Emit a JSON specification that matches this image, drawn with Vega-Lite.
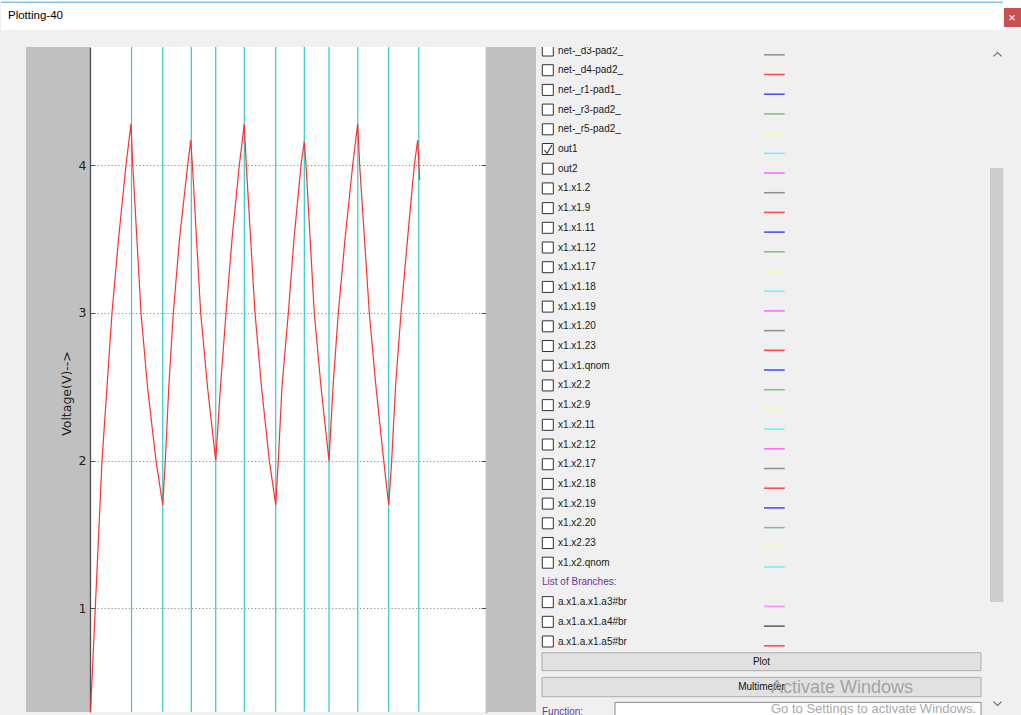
{
  "$schema": "https://vega.github.io/schema/vega-lite/v6.json",
  "background": "#f0f0f0",
  "padding": 0,
  "spacing": 17,
  "config": {"view": {"stroke": null}, "font": "Liberation Sans"},
  "datasets": {
    "red": [
      {"t":0.003,"v":0.25},{"t":0.080,"v":1.0},{"t":0.182,"v":2.0},{"t":0.333,"v":3.0},{"t":0.432,"v":3.5},{"t":0.545,"v":4.0},{"t":0.621,"v":4.28},
      {"t":0.648,"v":4.0},{"t":0.773,"v":3.0},{"t":0.871,"v":2.5},{"t":1.000,"v":2.0},{"t":1.102,"v":1.70},
      {"t":1.141,"v":2.0},{"t":1.194,"v":2.5},{"t":1.262,"v":3.0},{"t":1.356,"v":3.5},{"t":1.480,"v":4.0},{"t":1.526,"v":4.17},
      {"t":1.552,"v":4.0},{"t":1.677,"v":3.0},{"t":1.780,"v":2.5},{"t":1.905,"v":2.0},
      {"t":1.977,"v":2.5},{"t":2.061,"v":3.0},{"t":2.152,"v":3.5},{"t":2.262,"v":4.0},{"t":2.338,"v":4.28},
      {"t":2.368,"v":4.0},{"t":2.500,"v":3.0},{"t":2.598,"v":2.5},{"t":2.717,"v":2.0},{"t":2.814,"v":1.70},
      {"t":2.853,"v":2.0},{"t":2.909,"v":2.5},{"t":3.005,"v":3.0},{"t":3.091,"v":3.5},{"t":3.197,"v":4.0},{"t":3.247,"v":4.16},
      {"t":3.273,"v":4.0},{"t":3.398,"v":3.0},{"t":3.500,"v":2.5},{"t":3.621,"v":2.0},
      {"t":3.682,"v":2.5},{"t":3.762,"v":3.0},{"t":3.864,"v":3.5},{"t":3.980,"v":4.0},{"t":4.056,"v":4.28},
      {"t":4.086,"v":4.0},{"t":4.232,"v":3.0},{"t":4.333,"v":2.5},{"t":4.450,"v":2.0},{"t":4.526,"v":1.70},
      {"t":4.571,"v":2.0},{"t":4.629,"v":2.5},{"t":4.712,"v":3.0},{"t":4.811,"v":3.5},{"t":4.914,"v":4.0},{"t":4.965,"v":4.17},
      {"t":4.995,"v":3.90}
    ],
    "out1": [
      {"t":0,"v":5},{"t":0.629,"v":5},{"t":0.629,"v":0},{"t":1.102,"v":0},{"t":1.102,"v":5},{"t":1.535,"v":5},
      {"t":1.535,"v":0},{"t":1.905,"v":0},{"t":1.905,"v":5},{"t":2.338,"v":5},{"t":2.338,"v":0},{"t":2.814,"v":0},
      {"t":2.814,"v":5},{"t":3.247,"v":5},{"t":3.247,"v":0},{"t":3.621,"v":0},{"t":3.621,"v":5},{"t":4.058,"v":5},
      {"t":4.058,"v":0},{"t":4.526,"v":0},{"t":4.526,"v":5},{"t":4.982,"v":5},{"t":4.982,"v":0},{"t":4.995,"v":0}
    ],
    "signals": [
      {"i":0,"name":"net-_d3-pad2_","kind":"item","checked":false},
      {"i":1,"name":"net-_d4-pad2_","kind":"item","checked":false},
      {"i":2,"name":"net-_r1-pad1_","kind":"item","checked":false},
      {"i":3,"name":"net-_r3-pad2_","kind":"item","checked":false},
      {"i":4,"name":"net-_r5-pad2_","kind":"item","checked":false},
      {"i":5,"name":"out1","kind":"item","checked":true},
      {"i":6,"name":"out2","kind":"item","checked":false},
      {"i":7,"name":"x1.x1.2","kind":"item","checked":false},
      {"i":8,"name":"x1.x1.9","kind":"item","checked":false},
      {"i":9,"name":"x1.x1.11","kind":"item","checked":false},
      {"i":10,"name":"x1.x1.12","kind":"item","checked":false},
      {"i":11,"name":"x1.x1.17","kind":"item","checked":false},
      {"i":12,"name":"x1.x1.18","kind":"item","checked":false},
      {"i":13,"name":"x1.x1.19","kind":"item","checked":false},
      {"i":14,"name":"x1.x1.20","kind":"item","checked":false},
      {"i":15,"name":"x1.x1.23","kind":"item","checked":false},
      {"i":16,"name":"x1.x1.qnom","kind":"item","checked":false},
      {"i":17,"name":"x1.x2.2","kind":"item","checked":false},
      {"i":18,"name":"x1.x2.9","kind":"item","checked":false},
      {"i":19,"name":"x1.x2.11","kind":"item","checked":false},
      {"i":20,"name":"x1.x2.12","kind":"item","checked":false},
      {"i":21,"name":"x1.x2.17","kind":"item","checked":false},
      {"i":22,"name":"x1.x2.18","kind":"item","checked":false},
      {"i":23,"name":"x1.x2.19","kind":"item","checked":false},
      {"i":24,"name":"x1.x2.20","kind":"item","checked":false},
      {"i":25,"name":"x1.x2.23","kind":"item","checked":false},
      {"i":26,"name":"x1.x2.qnom","kind":"item","checked":false},
      {"i":27,"name":"List of Branches:","kind":"header","checked":false},
      {"i":28,"name":"a.x1.a.x1.a3#br","kind":"item","checked":false},
      {"i":29,"name":"a.x1.a.x1.a4#br","kind":"item","checked":false},
      {"i":30,"name":"a.x1.a.x1.a5#br","kind":"item","checked":false}
    ]
  },
  "vconcat": [
    {
      "hconcat": [
        {
          "width": 1002, "height": 30, "view": {"fill": "white"},
          "layer": [
            {
              "data": {"values": [{"t": "Plotting-40"}]},
              "mark": {"type": "text", "align": "left", "baseline": "middle", "dx": 7, "fontSize": 11.5, "color": "#000000"},
              "encoding": {
                "x": {"datum": 0, "type": "quantitative", "scale": {"domain": [0, 1], "nice": false, "zero": false}, "axis": null},
                "y": {"datum": 0.467, "type": "quantitative", "scale": {"domain": [0, 1], "nice": false, "zero": false}, "axis": null},
                "text": {"field": "t"}
              }
            },
            {
              "data": {"values": [{}]},
              "mark": {"type": "rule", "color": "#4aa3e8", "strokeWidth": 1},
              "encoding": {
                "x": {"datum": 0, "type": "quantitative", "axis": null},
                "x2": {"datum": 1},
                "y": {"datum": 0.927, "type": "quantitative", "axis": null}
              }
            }
          ]
        },
        {
          "vconcat": [
            {"width": 18, "height": 8, "view": {"fill": "white"}, "data": {"values": []}, "mark": "text"},
            {"width": 18, "height": 19, "view": {"fill": "#c75050"}, "data": {"values": [{"t": "×"}]}, "mark": {"type": "text", "color": "white", "fontSize": 13}, "encoding": {"text": {"field": "t"}}},
            {"width": 18, "height": 3, "view": {"fill": "white"}, "data": {"values": []}, "mark": "text"}
          ],
          "spacing": 0, "bounds": "flush"
        },
        {"width": 1, "height": 30, "view": {"fill": "white"}, "data": {"values": []}, "mark": "text"}
      ],
      "spacing": 0, "bounds": "flush"
    },
    {
      "hconcat": [
        {"width": 25, "height": 665, "view": {"fill": "#f0f0f0"}, "data": {"values": []}, "mark": "text"},
        {"width": 64, "height": 665, "view": {"fill": "#c0c0c0"}, "data": {"values": []}, "mark": "text"},
        {
          "width": 396, "height": 665,
          "view": {"fill": "white"},
          "resolve": {"axis": {"y": "independent"}},
          "layer": [
            {
              "data": {"name": "out1"},
              "mark": {"type": "line", "color": "#2ccccc", "strokeWidth": 1.2, "clip": true},
              "encoding": {
                "x": {"field": "t", "type": "quantitative", "scale": {"domain": [0, 6], "nice": false, "zero": false},
                      "axis": {"orient": "bottom", "values": [1, 2, 3, 4, 5], "labels": false, "ticks": false, "domain": false, "grid": true, "gridColor": "#8a8a8a", "gridDash": [1.2, 2.3], "gridWidth": 1, "title": null}},
                "y": {"field": "v", "type": "quantitative", "scale": {"domain": [0.298, 4.801], "nice": false, "zero": false},
                      "axis": {"orient": "left", "values": [1, 2, 3, 4], "ticks": false, "labelPadding": 4, "labelFont": "DejaVu Sans", "labelFontSize": 12.5, "labelColor": "#222222",
                               "domainColor": "#4d4d4d", "domainWidth": 1.3, "grid": true, "gridColor": "#8a8a8a", "gridDash": [1.2, 2.3], "gridWidth": 1,
                               "title": "Voltage(V)-->", "titleFont": "DejaVu Sans", "titleFontSize": 12.5, "titleFontWeight": "normal", "titleColor": "#222222", "titlePadding": 5, "titleY": 346}},
                "order": {"value": null}
              }
            },
            {
              "data": {"name": "red"},
              "mark": {"type": "line", "color": "#ff3030", "strokeWidth": 1.2, "clip": true},
              "encoding": {
                "x": {"field": "t", "type": "quantitative", "scale": {"domain": [0, 6], "nice": false, "zero": false}, "axis": null},
                "y": {"field": "v", "type": "quantitative", "scale": {"domain": [0.298, 4.801], "nice": false, "zero": false},
                      "axis": {"orient": "left", "offset": -5, "values": [1, 2, 3, 4], "ticks": true, "tickSize": 5, "tickColor": "#4d4d4d", "labels": false, "domain": false, "grid": false, "title": null}}
              }
            },
            {
              "data": {"name": "red"},
              "mark": {"type": "point", "opacity": 0, "clip": true},
              "encoding": {
                "x": {"field": "t", "type": "quantitative", "axis": null},
                "y": {"field": "v", "type": "quantitative",
                      "axis": {"orient": "right", "values": [1, 2, 3, 4], "ticks": false, "labels": false, "domainColor": "#4d4d4d", "domainWidth": 1.3, "grid": false, "title": null}}
              }
            },
            {
              "data": {"name": "red"},
              "mark": {"type": "point", "opacity": 0, "clip": true},
              "encoding": {
                "x": {"field": "t", "type": "quantitative", "axis": null},
                "y": {"field": "v", "type": "quantitative",
                      "axis": {"orient": "right", "offset": -5, "values": [1, 2, 3, 4], "ticks": true, "tickSize": 5, "tickColor": "#4d4d4d", "labels": false, "domain": false, "grid": false, "title": null}}
              }
            }
          ]
        },
        {"width": 50, "height": 665, "view": {"fill": "#c0c0c0"}, "data": {"values": []}, "mark": "text"},
        {
          "width": 470, "height": 668,
          "view": {"fill": "#f0f0f0"},
          "layer": [
            {
              "data": {"values": [{}]},
              "mark": {"type": "rect", "color": "#cdcdcd"},
              "encoding": {
                "x": {"datum": 454, "type": "quantitative", "scale": {"domain": [0, 470], "nice": false, "zero": false}, "axis": null},
                "x2": {"datum": 467.5},
                "y": {"datum": 5.965, "type": "quantitative", "scale": {"domain": [-0.178, 33.73], "reverse": true, "nice": false, "zero": false}, "axis": null},
                "y2": {"datum": 28.0}
              }
            },
            {
              "data": {"name": "signals"},
              "transform": [{"filter": "datum.kind === 'item'"}],
              "mark": {"type": "square", "size": 121, "fill": "white", "stroke": "#333333", "strokeWidth": 1, "filled": true, "opacity": 1, "clip": true},
              "encoding": {
                "x": {"datum": 11.8, "type": "quantitative", "axis": null},
                "y": {"field": "i", "type": "quantitative", "axis": null}
              }
            },
            {
              "data": {"name": "signals"},
              "transform": [{"filter": "datum.checked"}],
              "mark": {"type": "point", "shape": "M-0.64,0.18L-0.15,0.78L0.76,-0.73", "size": 121, "filled": false, "stroke": "#333333", "strokeWidth": 1.1, "opacity": 1},
              "encoding": {
                "x": {"datum": 11.8, "type": "quantitative", "axis": null},
                "y": {"field": "i", "type": "quantitative", "axis": null}
              }
            },
            {
              "data": {"name": "signals"},
              "transform": [{"filter": "datum.kind === 'item'"}],
              "mark": {"type": "text", "align": "left", "baseline": "middle", "fontSize": 10, "color": "#1a1a1a", "clip": true},
              "encoding": {
                "x": {"datum": 22, "type": "quantitative", "axis": null},
                "y": {"field": "i", "type": "quantitative", "axis": null},
                "text": {"field": "name"}
              }
            },
            {
              "data": {"name": "signals"},
              "transform": [{"filter": "datum.kind === 'header'"}],
              "mark": {"type": "text", "align": "left", "baseline": "middle", "fontSize": 10, "color": "#7030a0"},
              "encoding": {
                "x": {"datum": 6, "type": "quantitative", "axis": null},
                "y": {"field": "i", "type": "quantitative", "axis": null},
                "text": {"field": "name"}
              }
            },
            {
              "data": {"name": "signals"},
              "transform": [{"filter": "datum.kind === 'item'"}],
              "mark": {"type": "rule", "strokeWidth": 1.5, "yOffset": 4.3},
              "encoding": {
                "x": {"datum": 228, "type": "quantitative", "axis": null},
                "x2": {"datum": 248.7},
                "y": {"field": "i", "type": "quantitative", "axis": null},
                "color": {"field": "name", "type": "nominal", "legend": null,
                  "scale": {
                    "domain": ["net-_d3-pad2_","net-_d4-pad2_","net-_r1-pad1_","net-_r3-pad2_","net-_r5-pad2_","out1","out2",
                               "x1.x1.2","x1.x1.9","x1.x1.11","x1.x1.12","x1.x1.17","x1.x1.18","x1.x1.19",
                               "x1.x1.20","x1.x1.23","x1.x1.qnom","x1.x2.2","x1.x2.9","x1.x2.11","x1.x2.12",
                               "x1.x2.17","x1.x2.18","x1.x2.19","x1.x2.20","x1.x2.23","x1.x2.qnom",
                               "a.x1.a.x1.a3#br","a.x1.a.x1.a4#br","a.x1.a.x1.a5#br"],
                    "range": ["#8f8f8f","#ff4545","#4545ff","#88bb88","#ffff70","#66f5f5","#ff66ff",
                              "#8f8f8f","#ff4545","#4545ff","#88bb88","#ffff70","#66f5f5","#ff66ff",
                              "#8f8f8f","#ff4545","#4545ff","#88bb88","#ffff70","#66f5f5","#ff66ff",
                              "#8f8f8f","#ff4545","#4545ff","#88bb88","#ffff70","#66f5f5",
                              "#ff88ff","#5a5a5a","#ff4545"]
                  }
                }
              }
            },
            {
              "data": {"values": [{}]},
              "mark": {"type": "rect", "fill": "#e1e1e1", "stroke": "#adadad", "strokeWidth": 1},
              "encoding": {
                "x": {"datum": 6, "type": "quantitative", "axis": null},
                "x2": {"datum": 445},
                "y": {"datum": 30.57, "type": "quantitative", "axis": null},
                "y2": {"datum": 31.48}
              }
            },
            {
              "data": {"values": [{}]},
              "mark": {"type": "rect", "fill": "#e1e1e1", "stroke": "#adadad", "strokeWidth": 1},
              "encoding": {
                "x": {"datum": 6, "type": "quantitative", "axis": null},
                "x2": {"datum": 445},
                "y": {"datum": 31.82, "type": "quantitative", "axis": null},
                "y2": {"datum": 32.80}
              }
            },
            {
              "data": {"values": [{"label": "Plot", "row": 31.03}, {"label": "Multimeter", "row": 32.31}]},
              "mark": {"type": "text", "align": "center", "baseline": "middle", "fontSize": 10, "color": "#111111"},
              "encoding": {
                "x": {"datum": 225.5, "type": "quantitative", "axis": null},
                "y": {"field": "row", "type": "quantitative", "axis": null},
                "text": {"field": "label"}
              }
            },
            {
              "data": {"values": [{"label": "Function:"}]},
              "mark": {"type": "text", "align": "left", "baseline": "middle", "fontSize": 10, "color": "#6a3aa0", "clip": true},
              "encoding": {
                "x": {"datum": 6, "type": "quantitative", "axis": null},
                "y": {"datum": 33.58, "type": "quantitative", "axis": null},
                "text": {"field": "label"}
              }
            },
            {
              "data": {"values": [{}]},
              "mark": {"type": "rect", "fill": "white", "stroke": "#8a8a8a", "strokeWidth": 1, "clip": true},
              "encoding": {
                "x": {"datum": 79, "type": "quantitative", "axis": null},
                "x2": {"datum": 445},
                "y": {"datum": 33.09, "type": "quantitative", "axis": null},
                "y2": {"datum": 34.2}
              }
            },
            {
              "data": {"values": [{}]},
              "mark": {"type": "point", "shape": "M-1,0.5L0,-0.5L1,0.5", "size": 64, "filled": false, "stroke": "#606060", "strokeWidth": 1.1, "opacity": 1},
              "encoding": {
                "x": {"datum": 461.5, "type": "quantitative", "axis": null},
                "y": {"datum": 0.2, "type": "quantitative", "axis": null}
              }
            },
            {
              "data": {"values": [{}]},
              "mark": {"type": "point", "shape": "M-1,-0.5L0,0.5L1,-0.5", "size": 64, "filled": false, "stroke": "#606060", "strokeWidth": 1.1, "opacity": 1},
              "encoding": {
                "x": {"datum": 461.5, "type": "quantitative", "axis": null},
                "y": {"datum": 33.15, "type": "quantitative", "axis": null}
              }
            },
            {
              "data": {"values": [{"msg": "Activate Windows"}]},
              "mark": {"type": "text", "align": "left", "baseline": "middle", "fontSize": 18, "color": "#9a9a9a", "opacity": 0.85, "clip": true},
              "encoding": {
                "x": {"datum": 235, "type": "quantitative", "axis": null},
                "y": {"datum": 32.36, "type": "quantitative", "axis": null},
                "text": {"field": "msg"}
              }
            },
            {
              "data": {"values": [{"msg": "Go to Settings to activate Windows."}]},
              "mark": {"type": "text", "align": "left", "baseline": "middle", "fontSize": 13, "color": "#9a9a9a", "opacity": 0.85, "clip": true},
              "encoding": {
                "x": {"datum": 235, "type": "quantitative", "axis": null},
                "y": {"datum": 33.45, "type": "quantitative", "axis": null},
                "text": {"field": "msg"}
              }
            }
          ]
        }
      ],
      "spacing": 0, "bounds": "flush"
    }
  ]
}
